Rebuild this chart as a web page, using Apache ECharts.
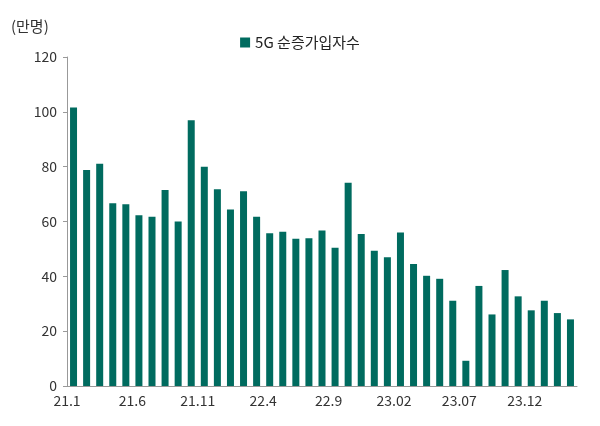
<!DOCTYPE html>
<html><head><meta charset="utf-8">
<script src="https://cdn.jsdelivr.net/npm/echarts@6/dist/echarts.min.js"></script>
<style>html,body{margin:0;padding:0;background:#fff}#c{width:600px;height:426px}</style>
</head><body><div id="c"></div>
<script>
const categories = ['21.1','21.2','21.3','21.4','21.5','21.6','21.7','21.8','21.9','21.10','21.11','21.12','22.1','22.2','22.3','22.4','22.5','22.6','22.7','22.8','22.9','22.10','22.11','22.12','23.01','23.02','23.03','23.04','23.05','23.06','23.07','23.08','23.09','23.10','23.11','23.12','24.1','24.2','24.3'];
const values = [101.6,78.8,81.1,66.7,66.3,62.3,61.7,71.5,60,96.9,80,71.8,64.4,71,61.7,55.7,56.3,53.7,53.9,56.7,50.4,74.1,55.4,49.3,47,56,44.5,40.2,39.1,31.1,9.2,36.5,26.1,42.3,32.7,27.6,31.1,26.6,24.3];
const seriesName = '5G 순증가입자수';
const unit = '(만명)';
const font = "'Noto Sans CJK KR', 'Noto Sans', sans-serif";
const chart = echarts.init(document.getElementById('c'));
chart.setOption({
  animation:false,
  textStyle:{fontFamily:font},
  title:{text:unit,left:6,top:14,textStyle:{fontSize:15,fontWeight:'normal',color:'#333',fontFamily:font}},
  legend:{data:[seriesName],top:30,left:'center',itemWidth:10,itemHeight:10,icon:'rect',itemGap:4,textStyle:{fontSize:15,color:'#222',fontFamily:font}},
  grid:{left:67,right:23,top:57,bottom:40},
  xAxis:{type:'category',data:categories,
    axisLine:{lineStyle:{color:'#999'}},
    axisTick:{interval:4,length:5,lineStyle:{color:'#999'}},
    axisLabel:{interval:4,fontSize:14,color:'#333',margin:8,padding:[0,13,0,0]}},
  yAxis:{type:'value',min:0,max:120,interval:20,
    axisLine:{show:true,lineStyle:{color:'#999'}},
    axisTick:{show:true,inside:false,length:4,lineStyle:{color:'#999'}},
    splitLine:{show:false},
    axisLabel:{fontSize:14,color:'#333',margin:10}},
  series:[{name:seriesName,type:'bar',data:values,barWidth:7,itemStyle:{color:'#006B5F'}}]
});
</script></body></html>
